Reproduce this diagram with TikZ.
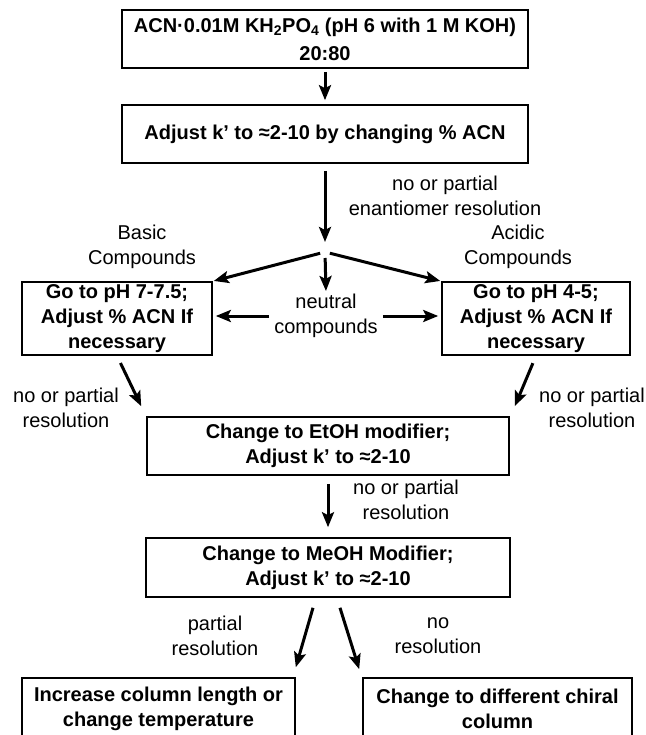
\documentclass[tikz,border=0pt]{standalone}
\usepackage{fontspec}
\setmainfont{Liberation Sans}
\usetikzlibrary{calc,positioning,arrows.meta}

\begin{document}
\begin{tikzpicture}[x=1pt, y=-1pt,
  box/.style={draw, line width=1.6pt, font=\fontsize{20}{25}\selectfont\bfseries, align=center, inner sep=2pt},
  arrow/.style={-{Stealth[length=15pt, width=12pt, inset=3pt]}, line width=3pt},
  note/.style={font=\fontsize{20}{25}\selectfont, align=center, inner sep=1pt}
]
  \clip (0,0) rectangle (645,735);

  % starting conditions
  \node[box, minimum width=406pt, minimum height=58pt] (acn) at (325,39) {ACN·0.01M KH\textsubscript{2}PO\textsubscript{4} (pH 6 with 1 M KOH)\\[3pt]20:80};
  \node[box, minimum width=406pt, minimum height=58pt] (adjust) at (325,134) {Adjust k’ to ≈2-10 by changing \% ACN};
  \coordinate (split) at (325,252);

  \node[note] (enant) at (445,196) {no or partial\\enantiomer resolution};
  \node[note] (basic) at (142,247) {Basic\\Compounds};
  \node[note] (acidic) at (518,247) {Acidic\\Compounds};

  % pH branches
  \node[box, minimum width=190pt, minimum height=73pt] (go7) at (117,318.5) {Go to pH 7-7.5;\\Adjust \% ACN If\\necessary};
  \node[box, minimum width=188pt, minimum height=73pt] (go4) at (536,318.5) {Go to pH 4-5;\\Adjust \% ACN If\\necessary};
  \node[note] (neutral) at (326,316) {neutral\\compounds};

  \node[note] (leftres) at (66,408) {no or partial\\resolution};
  \node[note] (rightres) at (592,408) {no or partial\\resolution};

  % modifiers
  \node[box, minimum width=362pt, minimum height=58pt] (etoh) at (328,446) {Change to EtOH modifier;\\Adjust k’ to ≈2-10};
  \node[note] (midres) at (406,500) {no or partial\\resolution};
  \node[box, minimum width=364pt, minimum height=59pt] (meoh) at (328,567.5) {Change to MeOH Modifier;\\Adjust k’ to ≈2-10};

  \node[note] (partial) at (215,636) {partial\\resolution};
  \node[note] (nores) at (438,636) {no\\resolution};

  % last steps
  \node[box, minimum width=273pt, minimum height=62pt] (incr) at (158.5,709) {Increase column length or\\change temperature};
  \node[box, minimum width=269pt, minimum height=62pt] (chiral) at (497.5,709) {Change to different chiral\\column};

  \draw[arrow, shorten <=3pt, shorten >=4pt] (acn) -- (adjust);
  \draw[arrow, shorten <=7pt, shorten >=10pt] (adjust) -- (split);
  \draw[arrow, shorten <=5pt, shorten >=1pt] (split) -- (go7.north east);
  \draw[arrow, shorten <=5pt, shorten >=1pt] (split) -- (go4.north west);
  \draw[arrow, shorten <=6pt, shorten >=2pt] (split) -- (neutral.north);
  \draw[arrow, shorten <=4pt, shorten >=3pt] (neutral.west) -- (neutral.west -| go7.east);
  \draw[arrow, shorten <=4pt, shorten >=3pt] (neutral.east) -- (neutral.east -| go4.west);
  \draw[arrow, shorten <=8pt] (go7.south) -- ($(etoh.north west)+(-5,-10)$);
  \draw[arrow, shorten <=8pt] (go4.south) -- ($(etoh.north east)+(5,-10)$);
  \draw[arrow, shorten <=8pt, shorten >=10pt] (etoh) -- (meoh);
  \draw[arrow] ($(meoh.south)+(-15,10)$) -- ($(incr.north east)+(0,-10)$);
  \draw[arrow] ($(meoh.south)+(12,10)$) -- ($(chiral.north west)+(-3,-8)$);
\end{tikzpicture}
\end{document}
